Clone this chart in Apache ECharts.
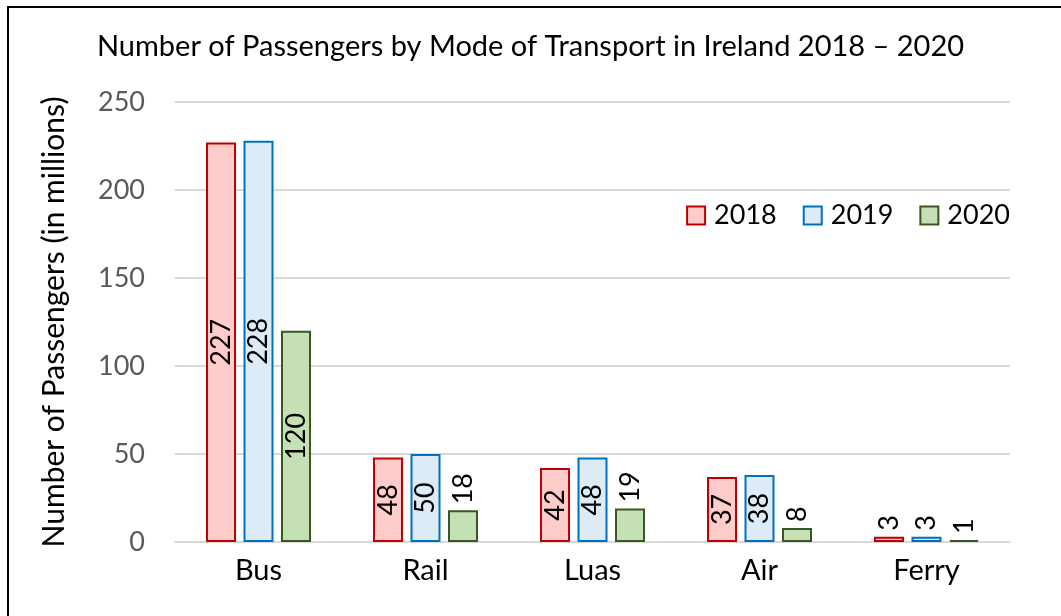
<!DOCTYPE html>
<html>
<head>
<meta charset="utf-8">
<script src="https://cdn.jsdelivr.net/npm/echarts@6/dist/echarts.min.js"></script>
<style>
  html, body { margin: 0; padding: 0; background: #fff; }
  #frame { position: absolute; left: 7px; top: 6px; width: 1100px; height: 700px; border-left: 2px solid #000; border-top: 2px solid #000; }
  #chart { position: absolute; left: 0; top: 0; width: 1061px; height: 616px; }
</style>
</head>
<body>
<div id="frame"></div>
<div id="chart"></div>
<script>
// 分类与数据
let categories = ['Bus', 'Rail', 'Luas', 'Air', 'Ferry'];
let years = ['2018', '2019', '2020'];
let data2018 = [227, 48, 42, 37, 3];
let data2019 = [228, 50, 48, 38, 3];
let data2020 = [120, 18, 19, 8, 1];
let yTicks = [0, 50, 100, 150, 200, 250];

let fills = ['#FFCCCC', '#DDEBF7', '#C5E0B4'];
let borders = ['#C00000', '#0070C0', '#385723'];
let fontName = 'Lato';

// 柱子高度够就放里面，不够就放上面
function makeData(arr) {
  return arr.map(v => {
    if (v >= 30) {
      return { value: v, label: { position: 'inside', rotate: 90, align: 'center', verticalAlign: 'middle' } };
    }
    return { value: v, label: { position: 'top', rotate: 90, align: 'left', verticalAlign: 'middle', distance: 6 } };
  });
}

let seriesArr = [data2018, data2019, data2020].map((arr, i) => ({
  name: years[i],
  type: 'bar',
  barWidth: 30,
  barGap: '25%',
  data: makeData(arr),
  itemStyle: { color: fills[i], borderColor: borders[i], borderWidth: 2 },
  label: { show: true, color: '#000', fontSize: 27, fontFamily: fontName },
  animation: false
}));

let option = {
  animation: false,
  title: {
    text: 'Number of Passengers by Mode of Transport in Ireland 2018 – 2020',
    left: 'center',
    top: 27,
    textStyle: { fontSize: 29, fontWeight: 'normal', color: '#000', fontFamily: fontName }
  },
  legend: {
    data: years,
    right: 46,
    top: 197,
    icon: 'rect',
    itemWidth: 18,
    itemHeight: 18,
    itemGap: 26,
    itemStyle: { borderWidth: 2 },
    textStyle: { fontSize: 27, color: '#000', fontFamily: fontName, padding: [0, 0, 0, 4] }
  },
  grid: { left: 175, right: 51, top: 102, bottom: 74 },
  xAxis: {
    type: 'category',
    data: categories,
    axisTick: { show: false },
    axisLine: { lineStyle: { color: '#d9d9d9', width: 2 } },
    axisLabel: { color: '#000', fontSize: 29, margin: 14, fontFamily: fontName }
  },
  yAxis: {
    type: 'value',
    min: yTicks[0],
    max: yTicks[yTicks.length - 1],
    interval: 50,
    name: 'Number of Passengers (in millions)',
    nameLocation: 'middle',
    nameGap: 106,
    nameTextStyle: { fontSize: 30, color: '#000', fontFamily: fontName },
    axisLine: { show: false },
    axisTick: { show: false },
    splitLine: { lineStyle: { color: '#d9d9d9', width: 2 } },
    axisLabel: { color: '#595959', fontSize: 27, margin: 30, fontFamily: fontName }
  },
  series: seriesArr
};

let myChart = echarts.init(document.getElementById('chart'));
myChart.setOption(option);
</script>
</body>
</html>
